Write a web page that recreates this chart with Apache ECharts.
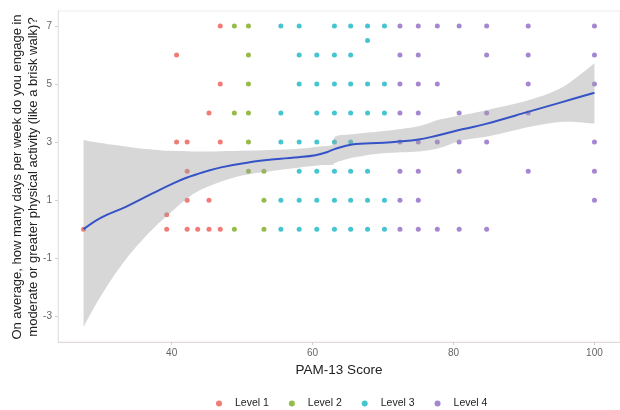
<!DOCTYPE html>
<html>
<head>
<meta charset="utf-8">
<script src="https://cdn.jsdelivr.net/npm/echarts@6/dist/echarts.min.js"></script>
<style>
html,body{margin:0;padding:0;background:#fff;}
#chart{width:620px;height:410px;}
</style>
</head>
<body>
<div id="chart"></div>
<script>
// ---- data ----
var levelNames = ['Level 1', 'Level 2', 'Level 3', 'Level 4'];

// [PAM-13 score, days per week]
var level1 = [
  [46.9,7],
  [40.7,6],
  [46.9,5],
  [45.3,4],
  [40.7,3],[42.2,3],[46.9,3],
  [42.2,2],
  [42.2,1],[45.3,1],
  [39.3,0.5],
  [27.5,0],[39.3,0],[42.2,0],[43.7,0],[45.3,0],[46.9,0]
];
var level2 = [
  [48.9,7],[50.9,7],
  [50.9,6],
  [50.9,5],
  [48.9,4],[50.9,4],
  [50.9,3],
  [50.9,2],[53.1,2],
  [53.1,1],
  [48.9,0],[53.1,0]
];
var level3 = [
  [55.5,7],[58.1,7],[63.1,7],[65.4,7],[67.8,7],[70.2,7],
  [67.8,6.5],
  [58.1,6],[60.6,6],[63.1,6],[65.4,6],
  [58.1,5],[60.6,5],[63.1,5],[65.4,5],[67.8,5],[70.2,5],
  [55.5,4],[60.6,4],[63.1,4],[65.4,4],[67.8,4],[70.2,4],
  [55.5,3],[58.1,3],[60.6,3],[63.1,3],[65.4,3],
  [58.1,2],[60.6,2],[63.1,2],[65.4,2],[67.8,2],
  [55.5,1],[58.1,1],[60.6,1],[63.1,1],[65.4,1],[67.8,1],[70.2,1],
  [55.5,0],[58.1,0],[60.6,0],[63.1,0],[65.4,0],[67.8,0],[70.2,0]
];
var level4 = [
  [72.4,7],[75.0,7],[77.7,7],[80.8,7],[84.7,7],[90.6,7],[100,7],
  [72.4,6],[75.0,6],[84.7,6],[90.6,6],[100,6],
  [72.4,5],[75.0,5],[77.7,5],[90.6,5],[100,5],
  [72.4,4],[75.0,4],[80.8,4],[84.7,4],[90.6,4],
  [72.4,3],[75.0,3],[77.7,3],[80.8,3],[84.7,3],[100,3],
  [72.4,2],[75.0,2],[80.8,2],[90.6,2],[100,2],
  [72.4,1],[75.0,1],[100,1],
  [72.4,0],[75.0,0],[77.7,0],[80.8,0],[84.7,0]
];

// loess fit
var fitX = [27.5, 30, 33.5, 36.8, 40, 42.1, 45, 47, 50.9, 55.5, 58, 60.4, 62, 63.1, 65.6, 70.1, 74.8, 77.6, 81.4, 84.6, 90.7, 95.4, 100];
var fitY = [0, 0.4, 0.77, 1.17, 1.55, 1.77, 2.0, 2.13, 2.3, 2.43, 2.48, 2.55, 2.65, 2.76, 2.92, 2.98, 3.08, 3.22, 3.45, 3.63, 4.05, 4.38, 4.7];

// confidence band
var bandX     = [27.5, 29, 31, 33, 35, 37.5, 40, 43, 46, 50, 54, 58, 61, 62.8, 63.3, 66, 70, 75, 78, 81, 85, 90.7, 95.5, 100];
var bandUpper = [3.07, 3.0, 2.93, 2.87, 2.8, 2.74, 2.7, 2.68, 2.68, 2.7, 2.73, 2.77, 2.85, 2.9, 3.2, 3.28, 3.38, 3.55, 3.78, 3.92, 4.12, 4.45, 4.9, 5.72];
var bandLower = [-3.37, -2.7, -1.9, -1.2, -0.6, 0.05, 0.6, 1.2, 1.55, 1.85, 2.0, 2.12, 2.2, 2.22, 2.3, 2.48, 2.62, 2.68, 2.8, 3.05, 3.2, 3.52, 3.7, 3.64];

var xTicks = [40, 60, 80, 100];
var yTicks = [-3, -1, 1, 3, 5, 7];

// ---- chart ----
var colors = ['#ee5a52', '#7aab1c', '#17b6c4', '#8f68c6'];
var FONT = "'Liberation Sans', Arial, sans-serif";

function pairs(xs, ys) { return xs.map(function (x, i) { return [x, ys[i]]; }); }

// Catmull-Rom through pixel points -> SVG path commands
function crPath(pts, first) {
  var s = first ? ('M' + pts[0][0] + ',' + pts[0][1]) : ('L' + pts[0][0] + ',' + pts[0][1]);
  for (var i = 0; i < pts.length - 1; i++) {
    var p0 = pts[i - 1] || pts[i], p1 = pts[i], p2 = pts[i + 1], p3 = pts[i + 2] || pts[i + 1];
    var c1x = p1[0] + (p2[0] - p0[0]) / 6, c1y = p1[1] + (p2[1] - p0[1]) / 6;
    var c2x = p2[0] - (p3[0] - p1[0]) / 6, c2y = p2[1] - (p3[1] - p1[1]) / 6;
    s += 'C' + c1x + ',' + c1y + ',' + c2x + ',' + c2y + ',' + p2[0] + ',' + p2[1];
  }
  return s;
}

var chart = echarts.init(document.getElementById('chart'), null, {renderer: 'canvas'});
var levels = [level1, level2, level3, level4];

var series = levels.map(function (d, i) {
  return {
    name: levelNames[i], type: 'scatter', data: d, symbol: 'circle', symbolSize: 5,
    itemStyle: {color: colors[i]}, z: 2, silent: true
  };
});
series.push({
  name: 'band', type: 'custom', z: 3, silent: true,
  data: bandX.map(function (x, i) { return [x, bandLower[i], bandUpper[i]]; }),
  encode: {x: 0, y: [1, 2]},
  renderItem: function (params, api) {
    if (params.dataIndex !== 0) return null;
    var up = bandX.map(function (x, i) { return api.coord([x, bandUpper[i]]); });
    var lo = bandX.map(function (x, i) { return api.coord([x, bandLower[i]]); }).reverse();
    var d = crPath(up, true) + crPath(lo, false) + 'Z';
    return {
      type: 'path',
      shape: {pathData: d},
      style: {fill: 'rgba(160,160,160,0.42)', stroke: null}
    };
  }
});
series.push({
  name: 'fit', type: 'line', data: pairs(fitX, fitY), symbol: 'none', smooth: 0.4,
  lineStyle: {color: '#3553c6', width: 2}, z: 4, silent: true
});

chart.setOption({
  animation: false,
  backgroundColor: '#fff',
  textStyle: {fontFamily: FONT},
  grid: {left: 58, right: -5, top: 11, bottom: 68, show: true, borderColor: '#ececec', borderWidth: 1, backgroundColor: '#fff'},
  xAxis: {
    type: 'value', min: 23.875, max: 103.625,
    name: 'PAM-13 Score', nameLocation: 'middle', nameGap: 19,
    nameTextStyle: {fontSize: 13.5, color: '#222', fontFamily: FONT},
    axisLine: {show: true, onZero: false, lineStyle: {color: '#e2dada', width: 1}},
    axisTick: {show: true, length: 3, customValues: xTicks, lineStyle: {color: '#cfcfcf'}},
    axisLabel: {customValues: xTicks, fontSize: 10, color: '#666', margin: 6, fontFamily: FONT},
    splitLine: {show: false}
  },
  yAxis: {
    type: 'value', min: -3.89, max: 7.52,
    axisLine: {show: true, onZero: false, lineStyle: {color: '#e4e4e4', width: 1}},
    axisTick: {show: true, length: 3, customValues: yTicks, lineStyle: {color: '#cfcfcf'}},
    axisLabel: {customValues: yTicks, fontSize: 10, color: '#666', margin: 6, fontFamily: FONT},
    splitLine: {show: false}
  },
  legend: {
    data: levelNames, left: 211, top: 393, icon: 'circle',
    itemWidth: 22, itemHeight: 6, itemGap: 20,
    textStyle: {fontSize: 10.5, color: '#222', fontFamily: FONT},
    selectedMode: false
  },
  graphic: [{
    type: 'text', x: 25, y: 177, rotation: Math.PI / 2,
    style: {
      text: 'On average, how many days per week do you engage in\nmoderate or greater physical activity (like a brisk walk)?',
      fontSize: 13, fill: '#222', align: 'center', verticalAlign: 'middle', lineHeight: 16, fontFamily: FONT
    }
  }],
  series: series
});
</script>
</body>
</html>
